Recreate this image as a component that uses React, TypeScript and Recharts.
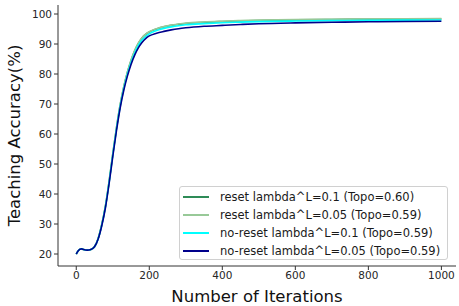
import { LineChart, Line, XAxis, YAxis } from 'recharts';

const iterations = [0, 5, 10, 15, 20, 30, 40, 50, 60, 70, 80, 90, 100, 110, 120, 130, 140, 150, 160, 170, 180, 190, 200, 220, 240, 260, 280, 300, 350, 400, 450, 500, 600, 700, 800, 900, 1000];

const reset01 = [20.0, 21.0, 21.6, 21.7, 21.5, 21.3, 21.5, 22.4, 25.2, 29.9, 36.0, 44.2, 53.3, 61.9, 69.5, 75.6, 80.5, 84.5, 87.7, 90.2, 92.0, 93.2, 94.0, 95.0, 95.7, 96.2, 96.55, 96.85, 97.25, 97.5, 97.7, 97.85, 98.05, 98.15, 98.25, 98.3, 98.35];
const reset005 = [20.0, 21.0, 21.6, 21.7, 21.5, 21.3, 21.5, 22.4, 25.2, 29.9, 36.1, 44.3, 53.4, 62.0, 69.6, 75.7, 80.6, 84.6, 87.8, 90.3, 92.1, 93.3, 94.1, 95.1, 95.8, 96.3, 96.65, 96.95, 97.35, 97.6, 97.8, 97.95, 98.15, 98.25, 98.35, 98.4, 98.45];
const noReset01 = [20.0, 21.0, 21.6, 21.7, 21.5, 21.3, 21.5, 22.4, 25.1, 29.7, 35.8, 43.9, 52.9, 61.5, 69.0, 75.0, 79.9, 83.8, 87.0, 89.5, 91.3, 92.5, 93.4, 94.5, 95.2, 95.7, 96.1, 96.4, 96.8, 97.1, 97.3, 97.45, 97.65, 97.8, 97.9, 97.95, 98.0];
const noReset005 = [20.0, 21.0, 21.6, 21.7, 21.5, 21.3, 21.5, 22.4, 25.0, 29.5, 35.5, 43.5, 52.5, 61.0, 68.5, 74.5, 79.3, 83.2, 86.3, 88.7, 90.5, 91.8, 92.7, 93.6, 94.2, 94.7, 95.1, 95.4, 95.9, 96.2, 96.5, 96.75, 97.05, 97.25, 97.4, 97.5, 97.6];

const xTicks = [0, 200, 400, 600, 800, 1000];
const yTicks = [20, 30, 40, 50, 60, 70, 80, 90, 100];

const series = [
  { key: 'reset01', name: 'reset lambda^L=0.1 (Topo=0.60)', color: '#2e8b57' },
  { key: 'reset005', name: 'reset lambda^L=0.05 (Topo=0.59)', color: '#98c998' },
  { key: 'noReset01', name: 'no-reset lambda^L=0.1 (Topo=0.59)', color: '#00ffff' },
  { key: 'noReset005', name: 'no-reset lambda^L=0.05 (Topo=0.59)', color: '#00008b' },
];

const data = iterations.map((it, i) => ({
  iter: it,
  reset01: reset01[i],
  reset005: reset005[i],
  noReset01: noReset01[i],
  noReset005: noReset005[i],
}));

const font = '"DejaVu Sans", sans-serif';
const spine = '#333';
const tickStyle = { fontSize: 10.5, fill: '#262626', fontFamily: font };
const labelStyle = { fontSize: 16.5, fill: '#111', fontFamily: font };

// matplotlib-style legend box, placed over the lower right of the plot
function LegendBox() {
  return (
    <div
      style={{
        position: 'absolute',
        left: 179,
        top: 186,
        width: 269,
        height: 74,
        boxSizing: 'border-box',
        border: '1px solid #d0d0d0',
        borderRadius: 3,
        background: 'rgba(255,255,255,0.85)',
        padding: '1px 0 0 3px',
        fontFamily: font,
        fontSize: 11.5,
        color: '#1a1a1a',
        whiteSpace: 'nowrap',
      }}
    >
      {series.map((s) => (
        <div key={s.key} style={{ display: 'flex', alignItems: 'center', height: 18 }}>
          <span style={{ display: 'inline-block', width: 26, height: 2, background: s.color, marginRight: 11 }} />
          <span>{s.name}</span>
        </div>
      ))}
    </div>
  );
}

export default function App() {
  return (
    <div style={{ position: 'absolute', left: 0, top: 0, width: 459, height: 306, background: '#fff' }}>
      <LineChart width={459} height={306} data={data} margin={{ top: 5, right: 3, left: 0, bottom: 0 }}>
        <XAxis
          dataKey="iter"
          type="number"
          domain={[-50, 1040]}
          ticks={xTicks}
          height={40}
          stroke={spine}
          tick={tickStyle}
          tickSize={4}
          allowDataOverflow
          label={{ value: 'Number of Iterations', position: 'insideBottom', offset: 4, style: labelStyle }}
        />
        <XAxis xAxisId="top" orientation="top" type="number" domain={[-50, 1040]} height={0} stroke={spine} tick={false} tickLine={false} />
        <YAxis
          type="number"
          domain={[16, 103]}
          ticks={yTicks}
          width={58}
          stroke={spine}
          tick={tickStyle}
          tickSize={4}
          allowDataOverflow
          label={{ value: 'Teaching Accuracy(%)', angle: -90, position: 'insideLeft', offset: 14, style: { ...labelStyle, textAnchor: 'middle' } }}
        />
        <YAxis yAxisId="right" orientation="right" width={0} stroke={spine} tick={false} tickLine={false} />
        {series.map((s) => (
          <Line
            key={s.key}
            dataKey={s.key}
            name={s.name}
            stroke={s.color}
            strokeWidth={1.6}
            dot={false}
            type="monotone"
            isAnimationActive={false}
          />
        ))}
      </LineChart>
      <LegendBox />
    </div>
  );
}
